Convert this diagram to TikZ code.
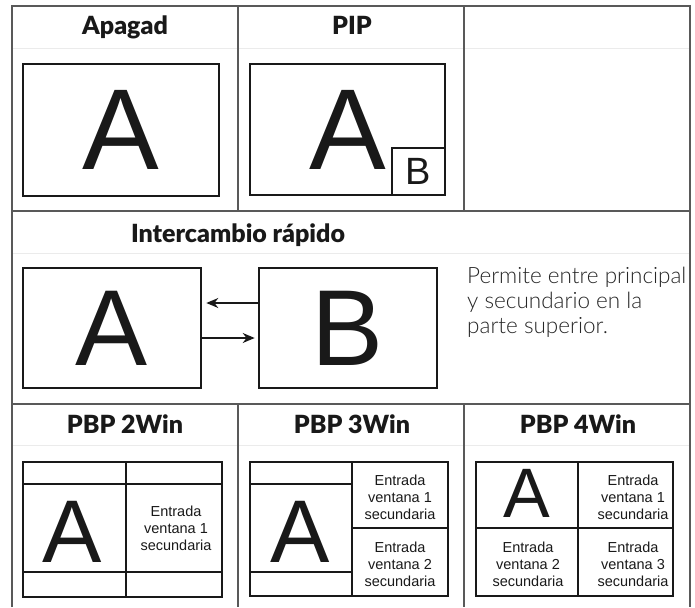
\documentclass[tikz,border=0pt]{standalone}
\usepackage{fontspec}
\setmainfont{Liberation Sans}
\newfontfamily\headfont{Lato Black}
\newfontfamily\lightfont{Lato Light}
\usetikzlibrary{positioning, arrows.meta}

\begin{document}
\begin{tikzpicture}[
  % one unit = one pixel, y grows downwards
  x=1pt, y=-1pt,
  grid/.style={draw=black!65, line width=1.5pt},
  faint/.style={draw=black!8, line width=0.8pt},
  screen/.style={draw=black!90, line width=2.6pt, inner sep=0pt},
  split/.style={draw=black!90, line width=2.6pt},
  heading/.style={font=\headfont\fontsize{25}{28}\selectfont, text=black!90, anchor=base},
  letter/.style={font=\fontsize{#1}{#1}\selectfont, text=black!90},
  entrada/.style={font=\fontsize{14.5}{17}\selectfont, align=center, text=black!90, inner sep=0pt},
  swap/.style={-{Stealth[length=12pt, width=10pt]}, line width=1.5pt, black!90}
]
  \useasboundingbox (0,0) rectangle (695,607);

  % Table
  \draw[faint] (12,48) -- (690,48) (12,253) -- (690,253) (12,445) -- (690,445);
  \draw[grid] (12,607) -- (12,6) -- (690,6) -- (690,607);
  \draw[grid] (12,211) -- (690,211) (12,404) -- (690,404);
  \draw[grid] (238,6) -- (238,211) (464,6) -- (464,211);
  \draw[grid] (238,404) -- (238,607) (464,404) -- (464,607);

  % Headings
  \node[heading] (hoff) at (125,35) {Apagad};
  \node[heading] (hpip) at (352,35) {PIP};
  \node[heading] (hswap) at (238,242) {Intercambio rápido};
  \node[heading] (hpbp2) at (125,433) {PBP 2Win};
  \node[heading] (hpbp3) at (352,433) {PBP 3Win};
  \node[heading] (hpbp4) at (578,433) {PBP 4Win};

  % Apagad and PIP
  \node[screen, minimum width=196, minimum height=132, letter=115] (off) at (121,130) {A};
  \node[screen, minimum width=195, minimum height=131, letter=115] (pip) at (347.5,129.5) {A};
  \node[screen, minimum width=53, minimum height=47, anchor=south east, letter=38] (pipb) at (pip.south east) {B};

  % Intercambio rapido
  \node[screen, minimum width=178, minimum height=120, letter=108] (qa) at (112,328) {A};
  \node[screen, minimum width=178, minimum height=120, letter=108] (qb) at (348,328) {B};
  \draw[swap] ([yshift=25]qb.west) -- ([xshift=4, yshift=25]qa.east);
  \draw[swap] ([yshift=-10]qa.east) -- ([xshift=-3, yshift=-10]qb.west);
  \node[font=\lightfont\fontsize{22.5}{25}\selectfont, text=black!85, align=left, anchor=west, inner sep=0pt] (note) at (467,302) {Permite entre principal\\y secundario en la\\parte superior.};

  % PBP 2Win
  \node[screen, minimum width=199, minimum height=135] (two) at (122.5,529.5) {};
  \draw[split] (126,462) -- (126,597) (23,484) -- (222,484) (23,572) -- (222,572);
  \node[letter=89, inner sep=0pt] (twoa) at (72.5,532) {A};
  \node[entrada] (twob) at (176,528) {Entrada\\ventana 1\\secundaria};

  % PBP 3Win
  \node[screen, minimum width=198, minimum height=134] (three) at (349,529) {};
  \draw[split] (352,462) -- (352,596) (250,484) -- (352,484) (250,572) -- (352,572) (352,528) -- (448,528);
  \node[letter=89, inner sep=0pt] (threea) at (300,532) {A};
  \node[entrada] (threeb) at (400,497) {Entrada\\ventana 1\\secundaria};
  \node[entrada] (threec) at (400,564) {Entrada\\ventana 2\\secundaria};

  % PBP 4Win
  \node[screen, minimum width=197, minimum height=134] (four) at (574.5,529) {};
  \draw[split] (578,462) -- (578,596) (476,528) -- (673,528);
  \node[letter=70, inner sep=0pt] (foura) at (526.5,493) {A};
  \node[entrada] (fourb) at (633,497) {Entrada\\ventana 1\\secundaria};
  \node[entrada] (fourc) at (528,564) {Entrada\\ventana 2\\secundaria};
  \node[entrada] (fourd) at (633,564) {Entrada\\ventana 3\\secundaria};
\end{tikzpicture}
\end{document}
